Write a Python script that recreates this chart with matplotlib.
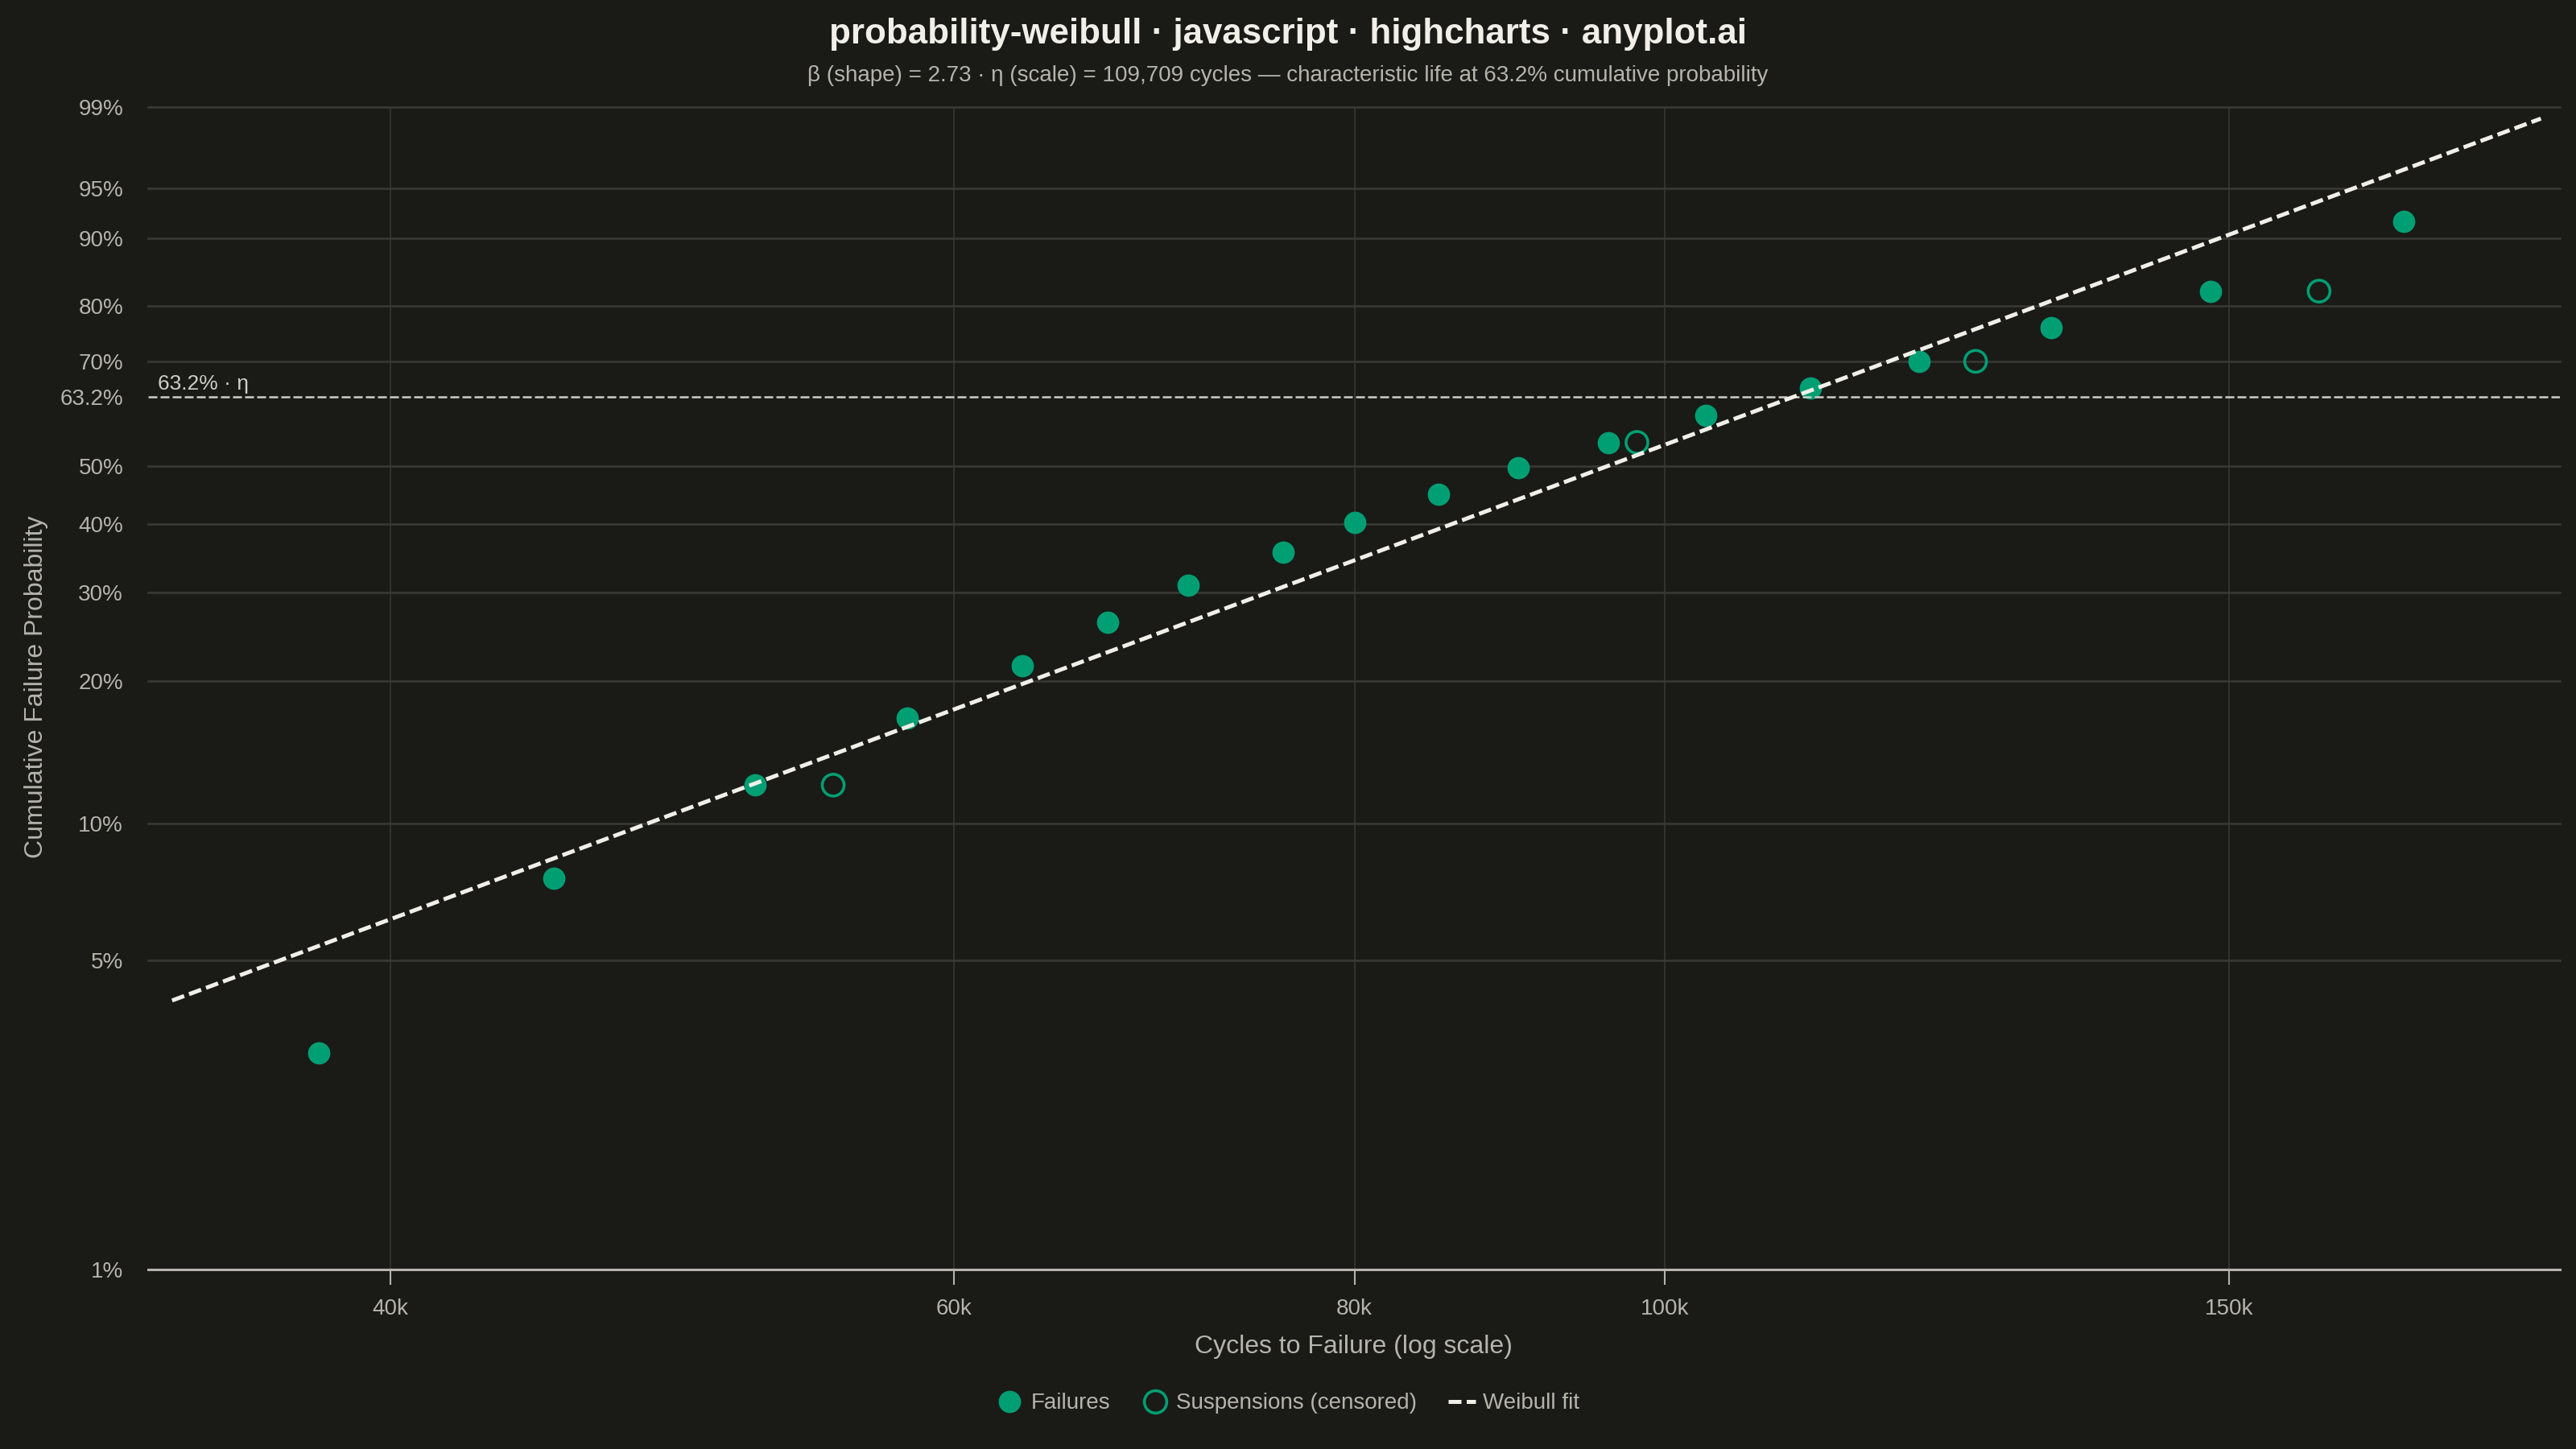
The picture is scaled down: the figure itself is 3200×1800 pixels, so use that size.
import numpy as np
import matplotlib
matplotlib.use('Agg')
import matplotlib.pyplot as plt
from matplotlib.lines import Line2D
from matplotlib.ticker import NullLocator

# 数据 (读自参考图)
fail_cycles = [38000, 45000, 52000, 58000, 63000, 67000, 71000, 76000, 80000,
               85000, 90000, 96000, 103000, 111000, 120000, 132000, 148000, 170000]
fail_prob = [3.1, 7.6, 12.1, 16.8, 21.5, 26.2, 30.9, 35.6, 40.3,
             45.0, 49.7, 54.4, 59.6, 64.8, 70.0, 76.3, 82.5, 91.9]
susp_cycles = [55000, 98000, 125000, 160000]
susp_prob = [12.1, 54.4, 70.0, 82.5]
fit_cycles = [34200, 187650]
fit_prob = [4.06, 98.68]
eta_prob = 63.2

y_ticks = [1, 5, 10, 20, 30, 40, 50, 63.2, 70, 80, 90, 95, 99]
y_labels = ['1%', '5%', '10%', '20%', '30%', '40%', '50%', '63.2%', '70%', '80%', '90%', '95%', '99%']
x_ticks = [40000, 60000, 80000, 100000, 150000]
x_labels = ['40k', '60k', '80k', '100k', '150k']

BG = '#1a1a17'
GREEN = '#009E73'
TEXT = '#f0efe8'
MUTED = '#b5b4ac'
GRID = '#3a3a35'

plt.rcParams['font.family'] = ['Liberation Sans', 'DejaVu Sans']


def weib_fwd(p):
    p = np.clip(np.asarray(p, dtype=float), 1e-6, 100 - 1e-6)
    return np.log(-np.log(1 - p / 100))


def weib_inv(w):
    return 100 * (1 - np.exp(-np.exp(w)))


fig = plt.figure(figsize=(16, 9), dpi=200, facecolor=BG)
ax = fig.add_axes([0.0574, 0.124, 0.9362, 0.8023], facecolor=BG)

ax.set_xscale('log')
ax.set_yscale('function', functions=(weib_fwd, weib_inv))
ax.set_xlim(33610, 190180)
ax.set_ylim(1, 99)

# 网格线
for lvl in [t for t in y_ticks if t not in (1, eta_prob)]:
    ax.axhline(lvl, color=GRID, lw=0.9, zorder=1, clip_on=False)
ax.set_xticks(x_ticks, x_labels)
ax.xaxis.set_minor_locator(NullLocator())
ax.grid(axis='x', color=GRID, lw=0.55, zorder=1)
ax.set_axisbelow(True)

ax.set_yticks(y_ticks, y_labels)
ax.yaxis.set_minor_locator(NullLocator())

for s in ['top', 'right', 'left']:
    ax.spines[s].set_visible(False)
ax.spines['bottom'].set_color(MUTED)
ax.spines['bottom'].set_linewidth(1.1)
ax.tick_params(axis='y', length=0, pad=11, labelsize=10, labelcolor=MUTED)
ax.tick_params(axis='x', length=6.7, width=0.75, color=MUTED, pad=6.5, labelsize=10, labelcolor=MUTED)

# 63.2% 参考线
ax.axhline(eta_prob, color='#cfcfc8', lw=0.9, ls=(0, (4.4, 1.6)), zorder=3.5)
ax.annotate('63.2% · η', xy=(0.004, eta_prob), xycoords=('axes fraction', 'data'),
            xytext=(0, 1.5), textcoords='offset points', va='bottom', ha='left',
            fontsize=9.5, color='#cfcfc8')

# 数据点
ax.scatter(fail_cycles, fail_prob, s=100, color=GREEN, linewidths=0, zorder=3)
ax.scatter(susp_cycles, susp_prob, s=95, facecolors='none', edgecolors=GREEN,
           linewidths=1.3, zorder=3)

# Weibull 拟合线
ax.plot(fit_cycles, fit_prob, color=TEXT, lw=1.8, ls=(0, (3.2, 1.3)), zorder=4)

# 标题
fig.text(0.5, 0.9765, 'probability-weibull · javascript · highcharts · anyplot.ai',
         ha='center', va='center', fontsize=15.8, fontweight='bold', color=TEXT)
fig.text(0.5, 0.948, 'β (shape) = 2.73 · η (scale) = 109,709 cycles — characteristic life at 63.2% cumulative probability',
         ha='center', va='center', fontsize=10, color=MUTED)
fig.text(0.5255, 0.0705, 'Cycles to Failure (log scale)', ha='center', va='center',
         fontsize=11.5, color=MUTED)
fig.text(0.014, 0.526, 'Cumulative Failure Probability', ha='center', va='center',
         rotation=90, fontsize=11.5, color=MUTED)

# 图例
handles = [
    Line2D([], [], ls='none', marker='o', ms=10, mfc=GREEN, mec=GREEN, mew=0),
    Line2D([], [], ls='none', marker='o', ms=10, mfc='none', mec=GREEN, mew=1.3),
    Line2D([], [], color=TEXT, lw=1.8, ls=(0, (3.2, 1.3))),
]
fig.legend(handles, ['Failures', 'Suspensions (censored)', 'Weibull fit'],
           loc='center', bbox_to_anchor=(0.5, 0.0315), ncol=3, frameon=False,
           fontsize=10, labelcolor=MUTED, handlelength=1.2, handletextpad=0.35,
           columnspacing=1.4)

fig.savefig('out.png', dpi=200, facecolor=BG)
